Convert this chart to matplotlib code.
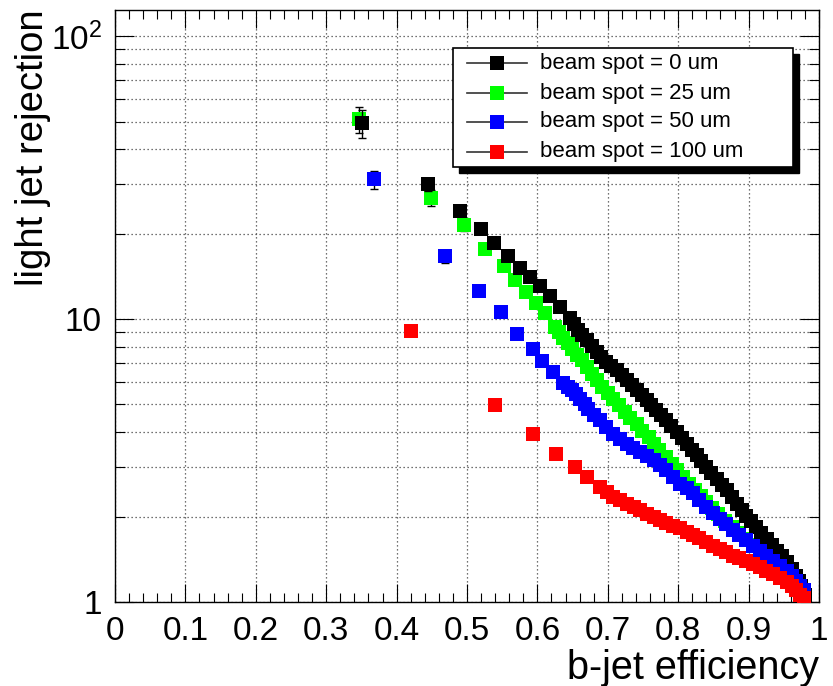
import matplotlib
matplotlib.use("Agg")
import matplotlib.pyplot as plt
from matplotlib.ticker import FixedLocator, FixedFormatter, MultipleLocator, NullFormatter
from matplotlib.patches import Rectangle
from matplotlib.lines import Line2D

plt.rcParams['font.family'] = ['Liberation Sans', 'DejaVu Sans']
plt.rcParams['mathtext.fontset'] = 'custom'
plt.rcParams['mathtext.rm'] = 'Liberation Sans'
plt.rcParams['mathtext.it'] = 'Liberation Sans'

# ---------------- data ----------------
labels = ["beam spot = 0 um", "beam spot = 25 um", "beam spot = 50 um", "beam spot = 100 um"]
colors = ["#000000", "#00ff00", "#0000ff", "#ff0000"]

eff_0 = [0.351, 0.445, 0.490, 0.520, 0.539, 0.558, 0.575, 0.590, 0.603, 0.618, 0.632,
         0.646, 0.652, 0.658, 0.664, 0.670, 0.677, 0.684, 0.691, 0.698, 0.705, 0.713, 0.720,
         0.727, 0.734, 0.741, 0.748, 0.755, 0.762, 0.769, 0.776, 0.783, 0.790, 0.798, 0.805,
         0.812, 0.819, 0.826, 0.833, 0.840, 0.847, 0.855, 0.862, 0.869, 0.876, 0.883, 0.890,
         0.897, 0.904, 0.911, 0.918, 0.926, 0.933, 0.940, 0.947, 0.954, 0.961, 0.968, 0.972,
         0.975, 0.978, 0.980]
rej_0 = [49.3, 30.0, 24.2, 20.8, 18.6, 16.7, 15.2, 14.1, 13.1, 12.06, 11.06,
         10.1, 9.6, 9.14, 8.78, 8.43, 8.03, 7.66, 7.35, 7.06, 6.83, 6.60, 6.33,
         6.08, 5.84, 5.61, 5.39, 5.17, 4.96, 4.76, 4.57, 4.39, 4.18, 3.99, 3.81,
         3.63, 3.46, 3.30, 3.15, 3.00, 2.86, 2.73, 2.60, 2.48, 2.35, 2.23, 2.12,
         2.02, 1.93, 1.84, 1.75, 1.67, 1.59, 1.52, 1.45, 1.38, 1.31, 1.24, 1.19,
         1.14, 1.10, 1.06]
err_0 = [5.5, 1.5, 0.8, 0.6]

eff_25 = [0.347, 0.449, 0.496, 0.525, 0.552, 0.568, 0.584, 0.598, 0.611, 0.625,
          0.630, 0.637, 0.643, 0.649, 0.656, 0.664, 0.671, 0.678, 0.685, 0.692, 0.700, 0.708,
          0.716, 0.724, 0.732, 0.741, 0.749, 0.758, 0.765, 0.773, 0.782, 0.791, 0.799, 0.807,
          0.815, 0.824, 0.832, 0.840, 0.848, 0.857, 0.867, 0.878, 0.887, 0.897, 0.906, 0.916,
          0.925, 0.935, 0.944, 0.954, 0.963, 0.973, 0.978]
rej_25 = [50.9, 26.9, 21.5, 17.7, 15.4, 13.8, 12.5, 11.4, 10.5, 9.39,
          9.0, 8.6, 8.25, 7.87, 7.5, 7.16, 6.78, 6.42, 6.08, 5.76, 5.49, 5.24,
          4.96, 4.70, 4.48, 4.27, 4.04, 3.83, 3.63, 3.44, 3.25, 3.08, 2.92, 2.77,
          2.62, 2.48, 2.37, 2.26, 2.15, 2.05, 1.94, 1.84, 1.75, 1.67, 1.59, 1.52,
          1.45, 1.38, 1.32, 1.26, 1.20, 1.14, 1.07]
err_25 = [5.5, 1.8, 1.0, 0.7]

eff_50 = [0.368, 0.469, 0.517, 0.549, 0.571, 0.594, 0.607, 0.622,
          0.637, 0.643, 0.649, 0.655, 0.661, 0.667, 0.672, 0.680, 0.689, 0.698, 0.708, 0.717,
          0.727, 0.736, 0.746, 0.755, 0.765, 0.774, 0.783, 0.793, 0.803, 0.812, 0.821, 0.830,
          0.840, 0.850, 0.859, 0.868, 0.878, 0.887, 0.897, 0.906, 0.916, 0.925, 0.935, 0.944,
          0.954, 0.961, 0.968, 0.973, 0.978]
rej_50 = [31.2, 16.7, 12.6, 10.6, 8.90, 7.87, 7.10, 6.51,
          5.95, 5.78, 5.61, 5.42, 5.24, 5.03, 4.83, 4.60, 4.39, 4.16, 3.94, 3.78,
          3.63, 3.51, 3.39, 3.28, 3.17, 3.04, 2.92, 2.77, 2.62, 2.52, 2.42, 2.29,
          2.17, 2.07, 1.97, 1.88, 1.79, 1.72, 1.65, 1.58, 1.52, 1.46, 1.40, 1.34,
          1.29, 1.24, 1.19, 1.14, 1.10]
err_50 = [2.3, 0.9]

eff_100 = [0.420, 0.540, 0.594, 0.627, 0.654, 0.670,
           0.689, 0.699, 0.708, 0.718, 0.727, 0.737, 0.746, 0.756, 0.765, 0.774, 0.783, 0.793,
           0.803, 0.812, 0.821, 0.830, 0.840, 0.850, 0.859, 0.868, 0.878, 0.887, 0.897, 0.906,
           0.916, 0.925, 0.935, 0.944, 0.954, 0.961, 0.968, 0.973, 0.978]
rej_100 = [9.09, 4.96, 3.92, 3.35, 3.00, 2.77,
           2.55, 2.45, 2.35, 2.29, 2.23, 2.17, 2.11, 2.05, 2.00, 1.95, 1.90, 1.86,
           1.82, 1.77, 1.73, 1.68, 1.63, 1.58, 1.54, 1.50, 1.46, 1.43, 1.40, 1.36,
           1.33, 1.29, 1.26, 1.22, 1.175, 1.14, 1.10, 1.06, 1.03]
err_100 = [0.3]

effs = [eff_0, eff_25, eff_50, eff_100]
rejs = [rej_0, rej_25, rej_50, rej_100]
errs = [err_0, err_25, err_50, err_100]
zorders = [4, 3, 5, 6]

xticks = [0, 0.1, 0.2, 0.3, 0.4, 0.5, 0.6, 0.7, 0.8, 0.9, 1]
xticklabels = ["0", "0.1", "0.2", "0.3", "0.4", "0.5", "0.6", "0.7", "0.8", "0.9", "1"]
yticks = [1, 10, 100]
yticklabels = ["1", "10", "$10^{2}$"]
xlabel = "b-jet efficiency"
ylabel = "light jet rejection"

# ---------------- figure ----------------
W, H = 833, 686
fig = plt.figure(figsize=(W / 100, H / 100), dpi=100)
L, R, T, B = 115, 819, 10, 602
ax = fig.add_axes([L / W, 1 - B / H, (R - L) / W, (B - T) / H])

ax.set_xlim(0, 1)
ax.set_yscale("log")
ax.set_ylim(1, 124)

MS = 9.6
for x, y, e, c, z in zip(effs, rejs, errs, colors, zorders):
    n = len(e)
    ax.errorbar(x[:n], y[:n], yerr=e, fmt="none", ecolor="black", elinewidth=1.0,
                capsize=2.7, capthick=1.0, zorder=z - 0.5)
    ax.plot(x, y, linestyle="none", marker="s", markersize=MS, color=c,
            markeredgewidth=0, zorder=z)

# axes styling (ROOT-like)
ax.xaxis.set_major_locator(FixedLocator(xticks))
ax.xaxis.set_major_formatter(FixedFormatter(xticklabels))
ax.xaxis.set_minor_locator(MultipleLocator(0.02))
ax.yaxis.set_major_locator(FixedLocator(yticks))
ax.yaxis.set_major_formatter(FixedFormatter(yticklabels))
minor_y = [m * d for d in (1, 10, 100) for m in range(2, 10) if m * d < 124]
ax.yaxis.set_minor_locator(FixedLocator(minor_y))
ax.yaxis.set_minor_formatter(NullFormatter())

ax.tick_params(axis="both", which="both", direction="in", top=True, right=True,
               width=0.8, colors="black", labelsize=24)
ax.tick_params(axis="x", which="major", length=13, pad=10)
ax.tick_params(axis="x", which="minor", length=6.5)
ax.tick_params(axis="y", which="major", length=14, pad=9.5)
ax.tick_params(axis="y", which="minor", length=7)

for sp in ax.spines.values():
    sp.set_linewidth(1.0)

ax.grid(True, which="major", axis="x", color="#444444", linestyle=(0, (1, 2.2)), linewidth=0.9)
ax.grid(True, which="both", axis="y", color="#444444", linestyle=(0, (1, 2.2)), linewidth=0.9)
ax.set_axisbelow(True)

fig.text(819 / W, 1 - 668 / H, xlabel, ha="right", va="center", fontsize=28.5)
fig.text(33 / W, 1 - 9 / H, ylabel, ha="center", va="top", rotation=90, fontsize=27.5)

# ---------------- legend (drawn manually, ROOT style) ----------------
lx0, ly0, lx1, ly1 = 453, 48, 793, 167
sh = 6
fig.add_artist(Rectangle(((lx0 + sh) / W, 1 - (ly1 + sh) / H), (lx1 - lx0) / W, (ly1 - ly0) / H,
                         transform=fig.transFigure, facecolor="black", edgecolor="black", zorder=10))
fig.add_artist(Rectangle((lx0 / W, 1 - ly1 / H), (lx1 - lx0) / W, (ly1 - ly0) / H,
                         transform=fig.transFigure, facecolor="white", edgecolor="black",
                         linewidth=1.2, zorder=11))
rows = [63, 93, 122, 152]
for lab, c, ry in zip(labels, colors, rows):
    fig.add_artist(Line2D([467 / W, 527 / W], [1 - ry / H, 1 - ry / H], transform=fig.transFigure,
                          color="#333333", linewidth=1.2, zorder=12))
    fig.add_artist(Line2D([497 / W], [1 - ry / H], transform=fig.transFigure, marker="s",
                          markersize=MS, color=c, markeredgewidth=0, linestyle="none", zorder=13))
    fig.text(540 / W, 1 - ry / H, lab, ha="left", va="center", fontsize=16, zorder=14)

fig.savefig("out.png", dpi=100)
